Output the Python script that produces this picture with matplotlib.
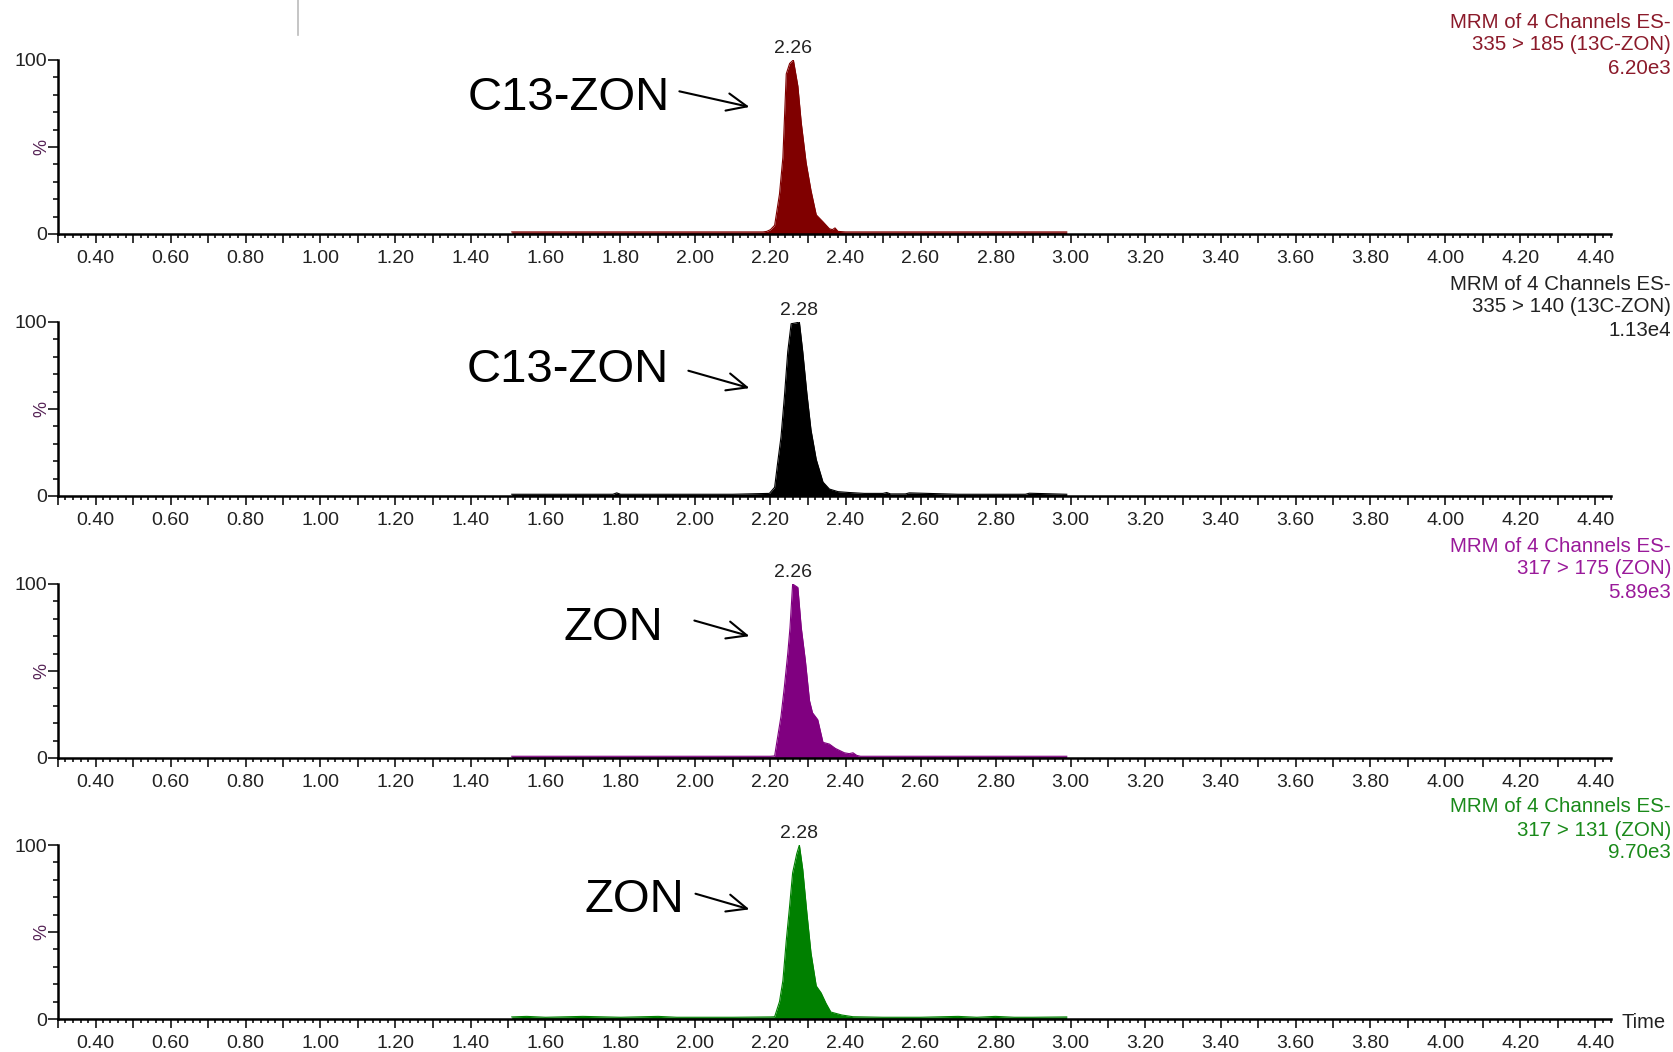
import numpy as np
import matplotlib.pyplot as plt
from matplotlib.ticker import MultipleLocator, FuncFormatter
from matplotlib.lines import Line2D

plt.rcParams['font.family'] = ['Liberation Sans', 'DejaVu Sans']

# --- data (time in min, intensity in %) ---
t1 = [1.51, 1.80, 2.10, 2.18, 2.19, 2.20, 2.211, 2.224, 2.233, 2.242, 2.251, 2.261,
      2.273, 2.282, 2.295, 2.308, 2.322, 2.340, 2.357, 2.365, 2.372, 2.38, 2.40,
      2.60, 2.80, 2.99]
y1 = [1.2, 1.2, 1.2, 1.2, 1.5, 2.5, 5, 23, 44, 92, 98, 100,
      85, 64, 41, 25, 11, 7, 3, 2.5, 3.5, 1.5, 1.2,
      1.2, 1.2, 1.2]

t2 = [1.51, 1.78, 1.79, 1.80, 2.10, 2.197, 2.211, 2.219, 2.228, 2.237, 2.246, 2.255,
      2.268, 2.277, 2.286, 2.297, 2.308, 2.322, 2.340, 2.357, 2.38, 2.41, 2.45,
      2.50, 2.51, 2.52, 2.56, 2.57, 2.70, 2.88, 2.89, 2.99]
y2 = [1.0, 1.0, 1.8, 1.0, 1.0, 1.5, 5, 19, 34, 57, 83, 99,
      99.5, 100, 83, 59, 38, 21, 8, 4, 2.5, 2, 1.5,
      1.5, 2.0, 1.2, 1.2, 1.8, 1.0, 1.0, 1.6, 1.0]

t3 = [1.51, 2.20, 2.211, 2.219, 2.228, 2.237, 2.246, 2.252, 2.259, 2.273, 2.282,
      2.293, 2.304, 2.312, 2.326, 2.340, 2.357, 2.373, 2.397, 2.41, 2.42, 2.43,
      2.44, 2.60, 2.99]
y3 = [1.0, 1.0, 1.2, 12, 24, 41, 60, 75, 100, 98, 75,
      56, 33, 26, 22, 9, 8, 5.5, 3, 2.5, 3, 1.5,
      1.0, 1.0, 1.0]

t4 = [1.51, 1.55, 1.60, 1.70, 1.80, 1.90, 1.95, 2.00, 2.10, 2.20, 2.211, 2.224,
      2.233, 2.242, 2.251, 2.259, 2.270, 2.277, 2.286, 2.297, 2.308, 2.322, 2.335,
      2.348, 2.361, 2.39, 2.42, 2.50, 2.60, 2.70, 2.75, 2.80, 2.85, 2.90, 2.99]
y4 = [1.2, 1.5, 1.0, 1.5, 1.0, 1.5, 1.0, 1.0, 1.0, 1.2, 1.3, 10,
      22, 45, 65, 84, 95, 100, 86, 61, 38, 19, 15,
      9, 4, 2.3, 1.3, 1.0, 1.0, 1.5, 1.0, 1.5, 1.0, 1.0, 1.2]

times = [t1, t2, t3, t4]
signals = [y1, y2, y3, y4]
peak_rt = ['2.26', '2.28', '2.26', '2.28']
compounds = ['C13-ZON', 'C13-ZON', 'ZON', 'ZON']
header = ['MRM of 4 Channels ES-'] * 4
transitions = ['335 > 185 (13C-ZON)', '335 > 140 (13C-ZON)',
               '317 > 175 (ZON)', '317 > 131 (ZON)']
scales = ['6.20e3', '1.13e4', '5.89e3', '9.70e3']

colors = ['#800000', '#000000', '#800080', '#008000']
text_colors = ['#8b1a2a', '#222222', '#9a1a9a', '#1a8a1a']

# --- layout (pixels of the 1673x1052 output) ---
W, H = 1673, 1052
bottoms = [234, 496, 758, 1019]
label_pos = [(1.931, 71.3), (1.928, 65.5), (1.915, 67.8), (1.971, 61.5)]
arrows = [((1.957, 82), (2.144, 73)), ((1.981, 72), (2.144, 62)),
          ((1.997, 79), (2.144, 70)), ((2.000, 72), (2.144, 63))]

fig = plt.figure(figsize=(W / 100, H / 100), dpi=100)
tick_col = '#222222'


def fmt(v, pos):
    return f'{v:.2f}' if round(v * 10) % 2 == 0 else ''


for i in range(4):
    ax = fig.add_axes([58 / W, 1 - bottoms[i] / H, 1552.5 / W, 174 / H])
    ax.fill_between(times[i], signals[i], 0, color=colors[i], lw=0)
    ax.plot(times[i], signals[i], color=colors[i], lw=0.8)
    ax.set_xlim(0.30, 4.44)
    ax.set_ylim(0, 100)

    for s in ['top', 'right']:
        ax.spines[s].set_visible(False)
    for s in ['left', 'bottom']:
        ax.spines[s].set_linewidth(1.8)

    ax.xaxis.set_major_locator(MultipleLocator(0.1))
    ax.xaxis.set_minor_locator(MultipleLocator(0.02))
    ax.xaxis.set_major_formatter(FuncFormatter(fmt))
    ax.tick_params(axis='x', which='major', length=6.5, width=1.1, pad=5,
                   labelsize=14, labelcolor=tick_col)
    ax.tick_params(axis='x', which='minor', length=3, width=1.1)

    ax.set_yticks([0, 50, 100])
    ax.set_yticklabels(['0', '', '100'])
    ax.yaxis.set_minor_locator(MultipleLocator(10))
    ax.tick_params(axis='y', which='major', length=7, width=1.1, pad=1,
                   labelsize=14, labelcolor=tick_col)
    ax.tick_params(axis='y', which='minor', length=3.5, width=1.1)
    ax.set_ylabel('%', fontsize=13, color='#552255')
    ax.yaxis.set_label_coords(-0.0052, 0.5)

    k = int(np.argmax(signals[i]))
    ax.annotate(peak_rt[i], (times[i][k], signals[i][k]), xytext=(0, 2),
                textcoords='offset points', ha='center', va='bottom',
                fontsize=14, color=tick_col, annotation_clip=False)

    ax.text(label_pos[i][0], label_pos[i][1], compounds[i], ha='right',
            va='baseline', fontsize=34, color='black')
    ax.annotate('', xy=arrows[i][1], xytext=arrows[i][0],
                arrowprops=dict(arrowstyle='->, head_length=0.8, head_width=0.35',
                                color='black', lw=1.5, mutation_scale=18,
                                shrinkA=0, shrinkB=0))

    lines = [header[i], transitions[i], scales[i]]
    for txt, off in zip(lines, [212, 189, 166]):
        fig.text(1671 / W, 1 - (bottoms[i] - off) / H, txt, ha='right',
                 va='center', fontsize=14.8, color=text_colors[i])

fig.text(1622 / W, 1 - 1022 / H, 'Time', ha='left', va='center',
         fontsize=14.5, color=tick_col)

# stray mark at the top of the original screenshot
fig.add_artist(Line2D([298 / W, 298 / W], [1, 1 - 35 / H], color='#bbbbbb', lw=1.2))

fig.savefig('out.png', dpi=100)
